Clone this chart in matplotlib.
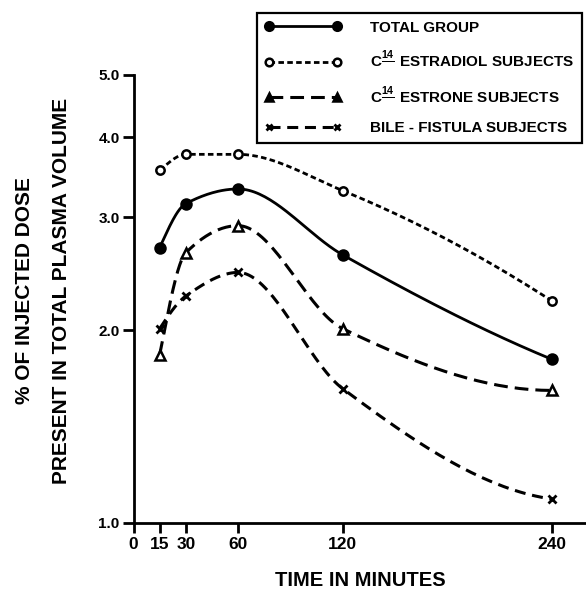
import numpy as np
import matplotlib
matplotlib.use('Agg')
import matplotlib.pyplot as plt
from matplotlib.lines import Line2D
from matplotlib.ticker import FixedLocator, FixedFormatter, NullLocator

plt.rcParams['font.family'] = ['Liberation Sans', 'DejaVu Sans']
plt.rcParams['font.weight'] = 'bold'
plt.rcParams['mathtext.fontset'] = 'custom'
plt.rcParams['mathtext.rm'] = 'Liberation Sans:bold'
plt.rcParams['mathtext.bf'] = 'Liberation Sans:bold'
plt.rcParams['mathtext.it'] = 'Liberation Sans:bold'

# Datos (minutos vs % de la dosis)
minutos = [15, 30, 60, 120, 240]
total_group = [2.69, 3.15, 3.32, 2.62, 1.80]
estradiol = [3.55, 3.76, 3.76, 3.30, 2.22]
estrone = [1.83, 2.64, 2.91, 2.01, 1.61]
bile_fistula = [2.01, 2.26, 2.46, 1.62, 1.09]

x_ticks = [0, 15, 30, 60, 120, 240]
y_ticks = [1.0, 2.0, 3.0, 4.0, 5.0]
y_tick_labels = ['1.0', '2.0', '3.0', '4.0', '5.0']
nombres = ['TOTAL GROUP',
           r'C$\frac{14}{\ }$ ESTRADIOL SUBJECTS',
           r'C$\frac{14}{\ }$ ESTRONE SUBJECTS',
           'BILE - FISTULA SUBJECTS']


def curva_suave(x, y, n=40):
    # curva monotona (tipo PCHIP) en escala log, solo para dibujar la linea
    x = np.asarray(x, float)
    ly = np.log10(np.asarray(y, float))
    h = np.diff(x)
    d = np.diff(ly) / h
    m = np.zeros_like(ly)
    for k in range(1, len(ly) - 1):
        if d[k - 1] * d[k] > 0:
            w1 = 2 * h[k] + h[k - 1]
            w2 = h[k] + 2 * h[k - 1]
            m[k] = (w1 + w2) / (w1 / d[k - 1] + w2 / d[k])

    def borde(h0, h1, d0, d1):
        mm = ((2 * h0 + h1) * d0 - h0 * d1) / (h0 + h1)
        if np.sign(mm) != np.sign(d0):
            mm = 0.0
        elif np.sign(d0) != np.sign(d1) and abs(mm) > abs(3 * d0):
            mm = 3 * d0
        return mm

    m[0] = borde(h[0], h[1], d[0], d[1])
    m[-1] = borde(h[-1], h[-2], d[-1], d[-2])
    xs, ys = [], []
    t = np.linspace(0, 1, n)
    for i in range(len(h)):
        h00 = 2 * t**3 - 3 * t**2 + 1
        h10 = t**3 - 2 * t**2 + t
        h01 = -2 * t**3 + 3 * t**2
        h11 = t**3 - t**2
        yy = h00 * ly[i] + h10 * h[i] * m[i] + h01 * ly[i + 1] + h11 * h[i] * m[i + 1]
        xs.extend(x[i] + t * h[i])
        ys.extend(10 ** yy)
    return xs, ys


fig = plt.figure(figsize=(5.86, 5.92), dpi=100)
ax = fig.add_axes([133.5 / 586, 69 / 592, 452.5 / 586, 448 / 592])

estilos = [
    dict(ls='-', lw=2.0, dashes=None, marker='o', mfc='black', ms=7.5, mew=1.5,
         leg_mfc='black', leg_ms=6.5),
    dict(ls='--', lw=2.0, dashes=(2, 1.2), marker='o', mfc='white', ms=6, mew=1.8,
         leg_mfc='white', leg_ms=5.5),
    dict(ls='--', lw=2.2, dashes=(4.5, 2.3), marker='^', mfc='white', ms=7.5, mew=1.8,
         leg_mfc='black', leg_ms=6),
    dict(ls='--', lw=2.2, dashes=(3.6, 2.2), marker='x', mfc='black', ms=6, mew=2.0,
         leg_mfc='black', leg_ms=5),
]
series = [total_group, estradiol, estrone, bile_fistula]

handles = []
for valores, e in zip(series, estilos):
    xs, ys = curva_suave(minutos, valores)
    linea, = ax.plot(xs, ys, color='black', lw=e['lw'], ls=e['ls'])
    if e['dashes'] is not None:
        linea.set_dashes(e['dashes'])
    ax.plot(minutos, valores, ls='none', marker=e['marker'], color='black',
            mfc=e['mfc'], mec='black', ms=e['ms'], mew=e['mew'], zorder=3)
    h = Line2D([0], [0], color='black', lw=e['lw'], ls=e['ls'], marker=e['marker'],
               mfc=e['leg_mfc'], mec='black', ms=e['leg_ms'], mew=e['mew'])
    if e['dashes'] is not None:
        h.set_dashes(e['dashes'])
    handles.append(h)

ax.set_yscale('log')
ax.set_xlim(0, 259.5)
ax.set_ylim(1.0, 5.0)
ax.yaxis.set_major_locator(FixedLocator(y_ticks))
ax.yaxis.set_major_formatter(FixedFormatter(y_tick_labels))
ax.yaxis.set_minor_locator(NullLocator())
ax.set_xticks(x_ticks)
ax.set_xticklabels([str(v) for v in x_ticks])

for lado in ['top', 'right']:
    ax.spines[lado].set_visible(False)
for lado in ['left', 'bottom']:
    ax.spines[lado].set_linewidth(2)
ax.tick_params(axis='y', direction='out', length=8, width=2, labelsize=11, pad=2)
ax.tick_params(axis='x', direction='out', length=7, width=2, labelsize=12.5, pad=3)

fig.text(360 / 586, 1 - 581 / 592, 'TIME IN MINUTES', ha='center', va='center',
         fontsize=14.5, fontweight='bold')
fig.text(25 / 586, 1 - 291 / 592, '% OF INJECTED DOSE', rotation=90,
         ha='center', va='center', fontsize=15, fontweight='bold')
fig.text(62 / 586, 1 - 291 / 592, 'PRESENT IN TOTAL PLASMA VOLUME', rotation=90,
         ha='center', va='center', fontsize=15, fontweight='bold')

leg = fig.legend(handles, nombres, loc='upper right',
                 bbox_to_anchor=(582 / 586, 1 - 13 / 592),
                 fontsize=11, handlelength=5.0, handletextpad=1.9,
                 labelspacing=1.0, borderpad=0.5, borderaxespad=0,
                 fancybox=False, framealpha=1, edgecolor='black', numpoints=2)
leg.get_frame().set_linewidth(1.6)

fig.savefig('out.png', dpi=100)
